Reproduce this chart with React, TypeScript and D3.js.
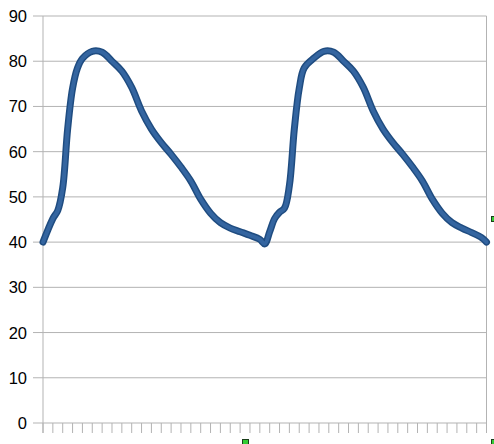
import React from "react";
import * as d3 from "d3";

// positions along the category axis (in tick units, 45 intervals) and values
const positions = [
  0, 1, 1.5, 2, 2.5, 3, 3.5, 4, 5, 6, 7, 8, 9, 10, 11, 12, 13, 14, 15, 16, 17, 18, 19, 20, 21, 22, 22.5,
  23, 23.5, 24, 24.5, 25, 25.5, 26, 26.5, 27.5, 28.5, 29.5, 30.5, 31.5, 32.5, 33.5, 34.5, 35.5, 36.5, 37.5,
  38.5, 39.5, 40.5, 41.5, 42.5, 43.5, 44.5, 45,
];
const values = [
  40, 45.2, 47, 52, 65, 74, 78.5, 80.6, 82.2, 82, 80, 77.8, 74.2, 69, 65, 62, 59.4, 56.6, 53.5, 49.5, 46.4,
  44.3, 43.1, 42.3, 41.5, 40.6, 39.6,
  42.3, 45.2, 46.6, 47.5, 52.5, 65, 74, 78.5, 80.7, 82.2, 82, 80, 77.8, 74.2, 69, 65, 62, 59.4, 56.6,
  53.5, 49.5, 46.4, 44.3, 43.1, 42.1, 41.0, 40,
];
const yTicks = [0, 10, 20, 30, 40, 50, 60, 70, 80, 90];
const tickCount = 45;

export default function App() {
  const W = 494;
  const H = 444;
  const left = 43;
  const right = 486.5;
  const top = 16;
  const bottom = 423;

  const x = d3.scaleLinear().domain([0, tickCount]).range([left, right]);
  const y = d3.scaleLinear().domain([0, 90]).range([bottom, top]);

  const pts: [number, number][] = positions.map((p, i) => [p, values[i]]);
  const line = d3
    .line<[number, number]>()
    .x((d) => x(d[0]))
    .y((d) => y(d[1]))
    .curve(d3.curveCatmullRom.alpha(0.5));
  const path = line(pts) || "";

  const xTicks = d3.range(0, tickCount + 1);
  const grid = "#b3b3b3";

  return (
    <svg
      width={W}
      height={H}
      style={{ position: "absolute", left: 0, top: 0, background: "#fff" }}
      fontFamily="'Liberation Sans', Arial, sans-serif"
    >
      {yTicks.map((t) => (
        <g key={t}>
          <line x1={33} x2={right} y1={y(t)} y2={y(t)} stroke={grid} strokeWidth={1} />
          <text x={27} y={y(t) + 6} textAnchor="end" fontSize={16.5} fill="#000">
            {t}
          </text>
        </g>
      ))}
      <line x1={left} x2={left} y1={top} y2={433} stroke={grid} strokeWidth={1} />
      <line x1={right} x2={right} y1={top} y2={433} stroke={grid} strokeWidth={1} />
      {xTicks.map((t) => (
        <line key={t} x1={x(t)} x2={x(t)} y1={bottom} y2={433} stroke={grid} strokeWidth={1} />
      ))}
      <path d={path} fill="none" stroke="#1f4c80" strokeWidth={7} strokeLinejoin="round" strokeLinecap="round" />
      <path d={path} fill="none" stroke="#3465a0" strokeWidth={4} strokeLinejoin="round" strokeLinecap="round" />
      <rect x={242.5} y={439.5} width={6} height={6} fill="#33cc33" stroke="#1a3d1a" strokeWidth={1} />
      <rect x={491.5} y={216.5} width={6} height={5} fill="#33cc33" stroke="#1a3d1a" strokeWidth={1} />
      <rect x={491.5} y={439.5} width={6} height={6} fill="#33cc33" stroke="#1a3d1a" strokeWidth={1} />
    </svg>
  );
}
